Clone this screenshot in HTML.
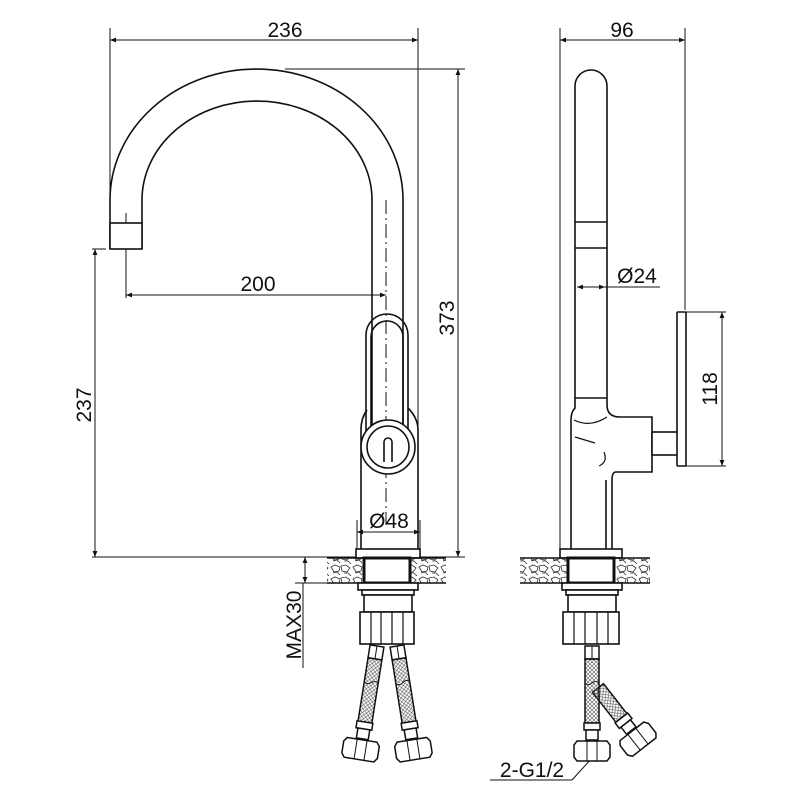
<!DOCTYPE html>
<html><head><style>
html,body{margin:0;padding:0;background:#fff}
svg{display:block}
text{font-family:"Liberation Sans","DejaVu Sans",sans-serif;font-size:21px;fill:#111}
</style></head><body>
<svg width="800" height="800" viewBox="0 0 800 800" xmlns="http://www.w3.org/2000/svg">
<defs>
<marker id="a" viewBox="0 0 10 10" refX="10" refY="5" markerWidth="9" markerHeight="6" orient="auto-start-reverse" markerUnits="userSpaceOnUse"><path d="M0,1 L10,5 L0,9 z" fill="#111"/></marker>
<pattern id="stone" width="22" height="12" patternUnits="userSpaceOnUse">
<path d="M1,3 l4,-2 l5,2 l-1,4 l-5,1 z M11,2 l5,-1 l4,3 l-3,4 l-5,-1 z M3,9 l4,-1 l3,3 M14,9 l4,0 l3,3" fill="none" stroke="#333" stroke-width="0.8"/>
</pattern>
<pattern id="braid" width="4" height="4" patternUnits="userSpaceOnUse">
<path d="M0,0 L4,4 M4,0 L0,4" stroke="#555" stroke-width="0.6"/>
</pattern>
<g id="hose">
<rect x="-7" y="0" width="14" height="13" fill="#fff" stroke="#111" stroke-width="1.5"/>
<line x1="0" y1="0" x2="0" y2="13" stroke="#111" stroke-width="1"/>
<rect x="-7" y="13" width="14" height="64" fill="url(#braid)" stroke="#111" stroke-width="1.5"/>
<path d="M-7,37 q3,3 7,0 q4,-3 7,0" fill="#fff" stroke="#111" stroke-width="1"/>
<rect x="-8" y="77" width="16" height="7" fill="#fff" stroke="#111" stroke-width="1.5"/>
<rect x="-6" y="84" width="12" height="10" fill="#fff" stroke="#111" stroke-width="1.5"/>
<path d="M-15,95 h30 l3,4 v12 l-3,4 h-30 l-3,-4 v-12 z" fill="#fff" stroke="#111" stroke-width="1.5"/>
<line x1="-5" y1="95" x2="-5" y2="115" stroke="#111" stroke-width="1"/>
<line x1="5" y1="95" x2="5" y2="115" stroke="#111" stroke-width="1"/>
</g>
<g id="hose2">
<rect x="-7" y="0" width="14" height="38" fill="url(#braid)" stroke="#111" stroke-width="1.5"/>
<rect x="-8" y="38" width="16" height="7" fill="#fff" stroke="#111" stroke-width="1.5"/>
<rect x="-6" y="45" width="12" height="9" fill="#fff" stroke="#111" stroke-width="1.5"/>
<path d="M-15,55 h30 l3,4 v12 l-3,4 h-30 l-3,-4 v-12 z" fill="#fff" stroke="#111" stroke-width="1.5"/>
<line x1="-5" y1="55" x2="-5" y2="75" stroke="#111" stroke-width="1"/>
<line x1="5" y1="55" x2="5" y2="75" stroke="#111" stroke-width="1"/>
</g>
</defs>
<g fill="none" stroke="#111" stroke-width="1">
<line x1="110" y1="28" x2="110" y2="193"/>
<line x1="418" y1="28" x2="418" y2="550"/>
<line x1="110" y1="40" x2="418" y2="40" marker-start="url(#a)" marker-end="url(#a)"/>
<line x1="285" y1="69" x2="465" y2="69"/>
<line x1="458" y1="69" x2="458" y2="557" marker-start="url(#a)" marker-end="url(#a)"/>
<line x1="92" y1="249" x2="106" y2="249"/>
<line x1="95" y1="249" x2="95" y2="557" marker-start="url(#a)" marker-end="url(#a)"/>
<line x1="92" y1="557" x2="357" y2="557"/>
<line x1="418" y1="557" x2="465" y2="557"/>
<line x1="126" y1="252" x2="126" y2="298"/>
<line x1="126" y1="295" x2="386" y2="295" marker-start="url(#a)" marker-end="url(#a)"/>
<line x1="386" y1="200" x2="386" y2="525" stroke-dasharray="14,4,2,4"/>
<line x1="126" y1="213" x2="126" y2="258" stroke-dasharray="10,3,2,3"/>
<line x1="357" y1="520" x2="357" y2="550"/>
<line x1="420" y1="520" x2="420" y2="550"/>
<line x1="357" y1="532" x2="420" y2="532" marker-start="url(#a)" marker-end="url(#a)"/>
<line x1="295" y1="583" x2="327" y2="583"/>
<line x1="305" y1="557" x2="305" y2="583" marker-start="url(#a)" marker-end="url(#a)"/>
<line x1="303" y1="583" x2="303" y2="668"/>
</g>
<g fill="none" stroke="#111" stroke-width="1.6">
<path d="M110,249 V200 A146.5,131 0 0 1 403,200 V440"/>
<path d="M142,249 V200 A115,99 0 0 1 372,200 V440"/>
<rect x="110" y="223" width="32" height="26" fill="#fff"/>
<path d="M366,440 V335 A21,21 0 0 1 408,335 V440"/>
<path d="M371,430 V337 A16,16 0 0 1 403,337 V430"/>
<path d="M361,550 V430 Q361,418 367,410"/>
<path d="M418,550 V430 Q418,418 408,408"/>
<circle cx="388" cy="447" r="27" fill="#fff"/>
<circle cx="388" cy="447" r="21"/>
<path d="M384,462 V442 A4,4 0 0 1 392,442 V462"/>
<rect x="356" y="549" width="64" height="9" fill="#fff"/>
<rect x="327" y="558" width="119" height="25" fill="url(#stone)" stroke="none"/>
<line x1="327" y1="558" x2="446" y2="558"/><line x1="327" y1="583" x2="446" y2="583"/>
<rect x="364" y="558" width="46" height="25" fill="#fff" stroke-width="3"/>
<rect x="358" y="583" width="60" height="7" fill="#fff"/>
<rect x="362" y="590" width="52" height="5" fill="#fff"/>
<rect x="364" y="595" width="48" height="17" fill="#fff"/>
<rect x="360" y="612" width="54" height="32" fill="#fff"/>
<path d="M371,612v32M381,612v32M392,612v32M403,612v32" stroke-width="1.2"/>
</g>
<use href="#hose" transform="translate(377,646) rotate(9)"/>
<use href="#hose" transform="translate(397,646) rotate(-9)"/>
<g fill="none" stroke="#111" stroke-width="1">
<line x1="560" y1="28" x2="560" y2="550"/>
<line x1="685" y1="28" x2="685" y2="310"/>
<line x1="560" y1="40" x2="685" y2="40" marker-start="url(#a)" marker-end="url(#a)"/>
<line x1="577" y1="287" x2="605" y2="287" marker-start="url(#a)" marker-end="url(#a)"/>
<line x1="605" y1="287" x2="660" y2="287"/>
<line x1="686" y1="312" x2="726" y2="312"/>
<line x1="686" y1="466" x2="726" y2="466"/>
<line x1="722" y1="312" x2="722" y2="466" marker-start="url(#a)" marker-end="url(#a)"/>
<line x1="490" y1="780" x2="572" y2="780"/>
<line x1="572" y1="780" x2="592" y2="758"/>
</g>
<g fill="none" stroke="#111" stroke-width="1.6">
<path d="M575,398 V86 A16,16 0 0 1 607,86 V398 Z"/>
<line x1="575" y1="222" x2="607" y2="222"/>
<line x1="575" y1="248" x2="607" y2="248"/>
<path d="M571,550 V420 Q571,412 575,408 V398"/>
<path d="M607,398 V405 Q607,417 620,417 H652 V472 H616 Q612,472 612,480 V550"/>
<line x1="606" y1="480" x2="606" y2="550"/>
<path d="M574,420 Q590,428 607,417" stroke-width="1.2"/>
<path d="M575,437 L595,443" stroke-width="1.2"/>
<path d="M604,452 Q608,462 599,466" stroke-width="1.2"/>
<rect x="652" y="432" width="26" height="23" fill="#fff"/>
<rect x="677" y="312" width="9" height="154" rx="1" fill="#fff"/>
<rect x="560" y="549" width="62" height="9" fill="#fff"/>
<rect x="520" y="558" width="130" height="25" fill="url(#stone)" stroke="none"/>
<line x1="520" y1="558" x2="650" y2="558"/><line x1="520" y1="583" x2="650" y2="583"/>
<rect x="568" y="558" width="46" height="25" fill="#fff" stroke-width="3"/>
<rect x="562" y="583" width="60" height="7" fill="#fff"/>
<rect x="566" y="590" width="52" height="5" fill="#fff"/>
<rect x="568" y="595" width="48" height="17" fill="#fff"/>
<rect x="563" y="612" width="56" height="32" fill="#fff"/>
<path d="M574,612v32M585,612v32M597,612v32M608,612v32" stroke-width="1.2"/>
</g>
<use href="#hose2" transform="translate(598,688) rotate(-38)"/>
<use href="#hose" transform="translate(592,646)"/>
<text x="285" y="37" text-anchor="middle">236</text>
<text x="258" y="291" text-anchor="middle">200</text>
<text x="389" y="528" text-anchor="middle">Ø48</text>
<text transform="translate(91,405) rotate(-90)" text-anchor="middle">237</text>
<text transform="translate(454,318) rotate(-90)" text-anchor="middle">373</text>
<text transform="translate(301,625) rotate(-90)" text-anchor="middle">MAX30</text>
<text x="622" y="37" text-anchor="middle">96</text>
<text x="637" y="283" text-anchor="middle">Ø24</text>
<text transform="translate(717,389) rotate(-90)" text-anchor="middle">118</text>
<text x="532" y="777" text-anchor="middle">2-G1/2</text>
</svg>
</body></html>
